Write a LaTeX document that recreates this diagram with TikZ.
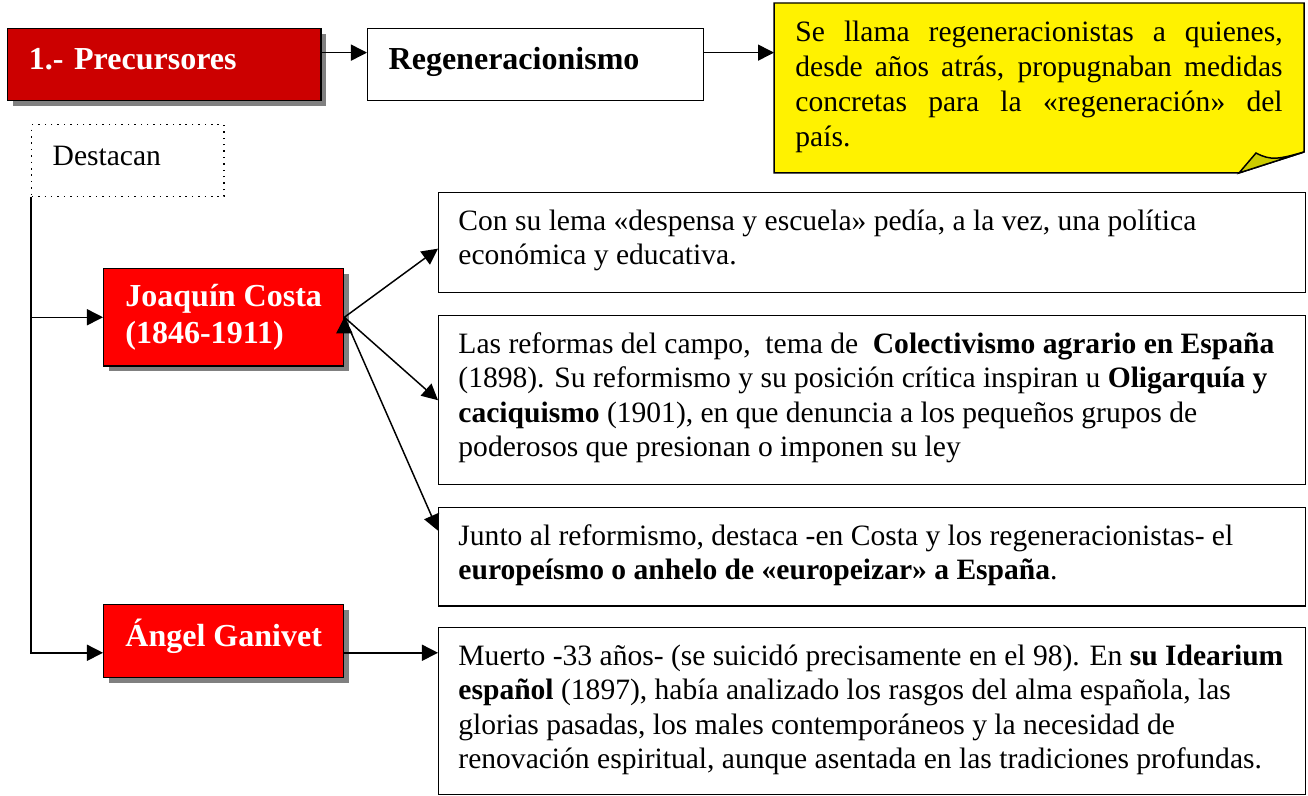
\documentclass[tikz,border=0pt]{standalone}
\usepackage{fontspec}
\setmainfont{Liberation Serif}
\usetikzlibrary{arrows.meta, shadows, backgrounds}
\definecolor{darkred}{RGB}{204,0,0}
\definecolor{notefold}{RGB}{204,204,0}
\newcommand{\boxtext}[2]{\parbox[c][#1][t]{336pt}{\strut #2}}
\tikzset{
    x=0.406pt, y=-0.406pt, % one unit is one pixel of the sketch, y points down
    redbox/.style={ % red title boxes with a grey shadow
        draw, fill=red, text=white, line width=0.6pt,
        font=\fontsize{13}{15}\selectfont\bfseries,
        anchor=north west, align=left, minimum width=97.4pt,
        drop shadow={shadow xshift=2pt, shadow yshift=-2pt, fill=gray, opacity=1}
    },
    oneline/.style={text height=9pt, text depth=5pt}, % lifts single lines a bit
    headbox/.style={
        draw, fill=white, line width=0.6pt,
        font=\fontsize{13}{15}\selectfont\bfseries,
        anchor=north west, align=left
    },
    txtbox/.style={ % the boxes with the explanations
        draw, line width=0.6pt, anchor=north west,
        inner xsep=8pt, inner ysep=5.5pt,
        font=\fontsize{12}{14}\selectfont
    },
    conn/.style={ % connectors
        -{Triangle[length=6.5pt,width=6.5pt]},
        line width=0.6pt
    }
}

\begin{document}
\begin{tikzpicture}
    \useasboundingbox (0,0) rectangle (1308,796);
    % top row
    \node[redbox, oneline, fill=darkred, text width=110pt, minimum width=127.1pt,
          minimum height=29.2pt] (prec) at (7,28) {1.- Precursores};
    \node[headbox, oneline, text width=119.4pt, minimum width=136.4pt,
          minimum height=29.2pt] (regen) at (367,28) {Regeneracionismo};
    \node[anchor=north west, inner xsep=8.5pt, inner ysep=5.5pt,
          font=\fontsize{12}{14.2}\selectfont] (note) at (774,3)
          {\parbox[c][57.6pt][t]{197.8pt}{\strut Se llama regeneracionistas a quienes,\linebreak
           desde años atrás, propugnaban medidas\linebreak
           concretas para la «regeneración» del\linebreak
           país.}};
    \begin{scope}[on background layer]
        \coordinate (nf1) at ([yshift=8.5pt]note.south east);
        \coordinate (nf2) at ([xshift=-26.4pt]note.south east);
        \coordinate (nf3) at ([shift={(-19.5pt,8.1pt)}]note.south east);
        \filldraw[fill=yellow, line width=0.6pt] (note.north west) -- (note.north east)
            -- (nf1) -- (nf2) -- (note.south west) -- cycle;
        \filldraw[fill=notefold, line width=0.6pt] (nf2) -- (nf3)
            .. controls +(15,8) and +(-25,7) .. (nf1) -- cycle;
    \end{scope}

    \node[draw, dotted, line width=0.6pt, anchor=north west, oneline, align=left,
          text width=61pt, minimum width=78pt, minimum height=29.2pt,
          font=\fontsize{12}{13.8}\selectfont] (dest) at (31,124) {Destacan};

    % the two authors
    \node[redbox, minimum height=39.4pt] (joaq) at (103,268) {Joaquín Costa\\(1846-1911)};
    \node[redbox, oneline, minimum height=29.6pt] (angel) at (103,604) {Ángel Ganivet};

    \node[txtbox] (lema) at (438,192) {\boxtext{29.6pt}{Con su lema «despensa y escuela» pedía, a la vez, una política\\
        económica y educativa.}};
    \node[txtbox] (reformas) at (438,315) {\boxtext{57.6pt}{Las reformas del campo,\ \ tema de\ \ \textbf{Colectivismo agrario en España}\\
        (1898). Su reformismo y su posición crítica inspiran u \textbf{Oligarquía y}\\
        \textbf{caciquismo} (1901), en que denuncia a los pequeños grupos de\\
        poderosos que presionan o imponen su ley}};
    \node[txtbox] (europa) at (438,507) {\boxtext{28.8pt}{Junto al reformismo, destaca -en Costa y los regeneracionistas- el\\
        \textbf{europeísmo o anhelo de «europeizar» a España}.}};
    \node[txtbox] (ideario) at (438,627) {\boxtext{56.8pt}{Muerto -33 años- (se suicidó precisamente en el 98). En \textbf{su Idearium}\\
        \textbf{español} (1897), había analizado los rasgos del alma española, las\\
        glorias pasadas, los males contemporáneos y la necesidad de\\
        renovación espiritual, aunque asentada en las tradiciones profundas.}};

    % connectors
    \coordinate (p1) at ([yshift=4.9pt]prec.east);
    \coordinate (p2) at ([yshift=4.9pt]regen.east);
    \draw[conn] (p1) -- (p1 -| regen.west);
    \draw[conn] (p2) -- (p2 -| note.west);

    \coordinate (a1) at ([yshift=-4.7pt]angel.west);
    \coordinate (a2) at ([yshift=-4.7pt]angel.east);
    \draw[conn] (dest.south west) |- (a1);
    \draw[conn] (dest.south west |- joaq.west) -- (joaq.west);
    \draw[conn] (a2) -- (a2 -| ideario.west);

    \draw[conn] (joaq.east) edge ([yshift=-2.4pt]lema.west)
                            edge (reformas.west)
                            edge ([yshift=10.6pt]europa.west);
\end{tikzpicture}
\end{document}
